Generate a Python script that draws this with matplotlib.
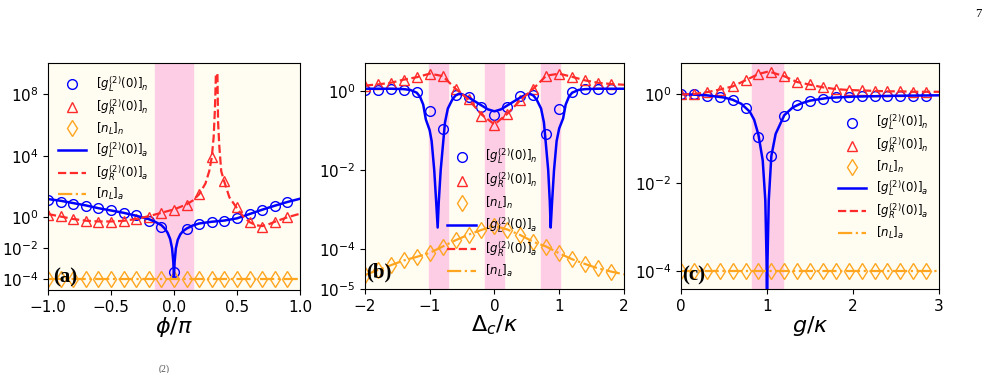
import matplotlib
matplotlib.use('Agg')
import matplotlib.pyplot as plt
import numpy as np
from matplotlib.ticker import NullLocator

# ---------------- panel (a): phi / pi ----------------
phi_pts = [-1.0, -0.9, -0.8, -0.7, -0.6, -0.5, -0.4, -0.3, -0.2, -0.1,
           0.0, 0.1, 0.2, 0.3, 0.4, 0.5, 0.6, 0.7, 0.8, 0.9]
a_gL_n = [1.12, 1.02, 0.86, 0.74, 0.58, 0.45, 0.28, 0.13, -0.22, -0.65,
          -3.52, -0.78, -0.41, -0.32, -0.24, -0.06, 0.22, 0.48, 0.71, 1.02]
a_gR_n = [0.17, 0.09, -0.11, -0.22, -0.28, -0.28, -0.24, -0.13, 0.06, 0.28,
          0.50, 0.82, 1.51, 3.89, 2.38, 0.65, -0.28, -0.61, -0.32, 0.0]
a_nL_n = [-4.0] * 20

phi_gL = [-1.0, -0.9, -0.8, -0.7, -0.6, -0.5, -0.4, -0.3, -0.2, -0.15, -0.1,
          -0.07, -0.05, -0.03, -0.015, -0.005, 0.0, 0.005, 0.015, 0.03, 0.05,
          0.07, 0.1, 0.15, 0.2, 0.3, 0.4, 0.5, 0.6, 0.7, 0.8, 0.9, 1.0]
a_gL_a = [1.19, 1.08, 0.93, 0.78, 0.60, 0.45, 0.30, 0.11, -0.11, -0.28, -0.50,
          -0.75, -1.0, -1.4, -2.0, -2.9, -3.9, -2.9, -2.0, -1.45, -1.1,
          -0.9, -0.72, -0.52, -0.39, -0.28, -0.20, -0.06, 0.22, 0.50, 0.76, 1.0, 1.21]
phi_gR = [-1.0, -0.9, -0.8, -0.7, -0.6, -0.5, -0.4, -0.3, -0.2, -0.1, 0.0, 0.1,
          0.15, 0.2, 0.25, 0.28, 0.3, 0.315, 0.325, 0.333, 0.345, 0.35, 0.36,
          0.375, 0.4, 0.44, 0.5, 0.55, 0.6, 0.65, 0.7, 0.75, 0.8, 0.9, 1.0]
a_gR_a = [0.22, 0.06, -0.10, -0.21, -0.26, -0.26, -0.22, -0.10, 0.08, 0.30, 0.52, 0.84,
          1.1, 1.5, 2.2, 3.0, 3.9, 5.2, 7.0, 9.3, 9.3, 6.2, 4.6,
          3.0, 2.3, 1.3, 0.6, 0.05, -0.3, -0.5, -0.56, -0.45, -0.28, 0.01, 0.24]
phi_nL = [-1.0, 1.0]
a_nL_a = [-4.0, -4.0]

# ---------------- panel (b): Delta_c / kappa ----------------
dc_pts = [-2.0, -1.8, -1.6, -1.4, -1.2, -1.0, -0.8, -0.6, -0.4, -0.2,
          0.0, 0.2, 0.4, 0.6, 0.8, 1.0, 1.2, 1.4, 1.6, 1.8]
b_gL_n = [0.03, 0.03, 0.04, 0.03, -0.04, -0.50, -0.96, -0.11, -0.15, -0.42,
          -0.62, -0.42, -0.14, -0.10, -1.08, -0.46, -0.04, 0.04, 0.04, 0.04]
b_gR_n = [0.13, 0.16, 0.20, 0.28, 0.34, 0.43, 0.37, 0.05, -0.22, -0.63,
          -0.87, -0.58, -0.24, 0.05, 0.38, 0.43, 0.35, 0.26, 0.20, 0.17]
b_nL_n = [-4.65, -4.52, -4.40, -4.28, -4.19, -4.09, -3.93, -3.77, -3.63, -3.51,
          -3.41, -3.50, -3.64, -3.81, -3.93, -4.10, -4.25, -4.37, -4.48, -4.56]

dc_gL = [-2.0, -1.8, -1.6, -1.4, -1.3, -1.2, -1.15, -1.1, -1.06, -1.0, -0.97,
         -0.93, -0.9, -0.877, -0.86, -0.83, -0.79, -0.764, -0.72, -0.65, -0.6,
         -0.55, -0.5, -0.4, -0.3, -0.2, -0.1, 0.0, 0.1, 0.2, 0.3, 0.4, 0.5,
         0.55, 0.6, 0.65, 0.72, 0.764, 0.79, 0.83, 0.855, 0.868, 0.89, 0.92,
         0.96, 1.0, 1.06, 1.1, 1.15, 1.2, 1.3, 1.4, 1.6, 1.8, 2.0]
b_gL_a = [0.05, 0.05, 0.05, 0.04, 0.02, -0.05, -0.15, -0.35, -0.72, -1.0, -1.27,
          -2.0, -2.8, -3.45, -2.8, -2.0, -1.27, -0.8, -0.45, -0.22, -0.12,
          -0.08, -0.09, -0.17, -0.27, -0.37, -0.47, -0.52, -0.47, -0.37, -0.27, -0.17, -0.09,
          -0.08, -0.12, -0.22, -0.45, -0.8, -1.27, -2.0, -2.8, -3.45, -2.8, -2.0,
          -1.27, -0.95, -0.7, -0.35, -0.15, -0.05, 0.02, 0.04, 0.05, 0.05, 0.05]
dc_line = [-2.0, -1.8, -1.6, -1.4, -1.2, -1.0, -0.8, -0.6, -0.4, -0.2, 0.0,
           0.2, 0.4, 0.6, 0.8, 1.0, 1.2, 1.4, 1.6, 1.8, 2.0]
b_gR_a = [0.13, 0.16, 0.20, 0.28, 0.34, 0.43, 0.37, 0.05, -0.22, -0.60, -0.85,
          -0.58, -0.24, 0.05, 0.38, 0.43, 0.35, 0.26, 0.20, 0.17, 0.15]
b_nL_a = [-4.65, -4.52, -4.40, -4.28, -4.19, -4.09, -3.93, -3.77, -3.63, -3.51, -3.41,
          -3.50, -3.64, -3.81, -3.93, -4.10, -4.25, -4.37, -4.48, -4.56, -4.63]

# ---------------- panel (c): g / kappa ----------------
g_pts = [0.0, 0.15, 0.3, 0.45, 0.6, 0.75, 0.9, 1.05, 1.2, 1.35,
         1.5, 1.65, 1.8, 1.95, 2.1, 2.25, 2.4, 2.55, 2.7, 2.85]
c_gL_n = [0.0, -0.01, -0.05, -0.07, -0.13, -0.31, -0.97, -1.39, -0.50, -0.25,
          -0.16, -0.11, -0.07, -0.06, -0.05, -0.04, -0.04, -0.04, -0.04, -0.04]
c_gR_n = [-0.01, 0.0, 0.04, 0.10, 0.17, 0.31, 0.45, 0.49, 0.40, 0.26,
          0.22, 0.15, 0.11, 0.10, 0.08, 0.07, 0.06, 0.06, 0.05, 0.05]
c_nL_n = [-4.0] * 20

g_gL = [0.0, 0.3, 0.5, 0.6, 0.7, 0.8, 0.85, 0.9, 0.95, 0.98, 0.995, 1.0,
        1.005, 1.02, 1.05, 1.1, 1.2, 1.3, 1.4, 1.5, 1.7, 2.0, 2.5, 3.0]
c_gL_a = [0.0, -0.03, -0.08, -0.13, -0.22, -0.40, -0.58, -0.92, -1.5, -2.4, -3.8, -6.0,
          -3.8, -2.4, -1.4, -0.9, -0.48, -0.30, -0.21, -0.15, -0.09, -0.06, -0.04, -0.03]
g_gR = [0.0, 0.15, 0.3, 0.45, 0.6, 0.75, 0.9, 1.0, 1.05, 1.2, 1.35, 1.5,
        1.65, 1.8, 1.95, 2.1, 2.25, 2.4, 2.55, 2.7, 2.85, 3.0]
c_gR_a = [-0.01, 0.0, 0.04, 0.10, 0.17, 0.31, 0.45, 0.50, 0.49, 0.40, 0.27, 0.21,
          0.15, 0.11, 0.09, 0.08, 0.07, 0.06, 0.06, 0.05, 0.05, 0.05]
g_nL = [0.0, 3.0]
c_nL_a = [-4.0, -4.0]

labels = [r'$[g_L^{(2)}(0)]_n$', r'$[g_R^{(2)}(0)]_n$', r'$[n_L]_n$',
          r'$[g_L^{(2)}(0)]_a$', r'$[g_R^{(2)}(0)]_a$', r'$[n_L]_a$']

BG = '#fffdf2'
BAND = '#fdcde6'
BLUE = '#0000ff'
RED = '#ff2a2a'
ORANGE = '#ffa520'


def draw(ax, xp, gLn, gRn, nLn, xl, gLa, xr, gRa, xn, nLa):
    ax.set_facecolor(BG)
    ax.plot(xp, 10 ** np.array(gLn), 'o', ms=7, mfc='none', mec=BLUE, mew=1.0)
    ax.plot(xp, 10 ** np.array(gRn), '^', ms=7, mfc='none', mec=RED, mew=1.0)
    ax.plot(xp, 10 ** np.array(nLn), 'd', ms=8, mfc='none', mec=ORANGE, mew=1.0)
    ax.plot(xl, 10 ** np.array(gLa), '-', color=BLUE, lw=1.8)
    ax.plot(xr, 10 ** np.array(gRa), '--', color=RED, lw=1.6)
    ax.plot(xn, 10 ** np.array(nLa), '-.', color=ORANGE, lw=1.6)
    ax.set_yscale('log')
    ax.yaxis.set_minor_locator(NullLocator())
    ax.tick_params(labelsize=11)


fig = plt.figure(figsize=(9.89, 3.73), dpi=100)
axa = fig.add_axes([0.0485, 0.2225, 0.2548, 0.6086])
axb = fig.add_axes([0.369, 0.2252, 0.2619, 0.6059])
axc = fig.add_axes([0.6886, 0.2252, 0.2609, 0.6059])

draw(axa, phi_pts, a_gL_n, a_gR_n, a_nL_n, phi_gL, a_gL_a, phi_gR, a_gR_a, phi_nL, a_nL_a)
axa.axvspan(-0.15, 0.15, color=BAND, zorder=0)
axa.set_xlim(-1, 1)
axa.set_ylim(2e-5, 1e10)
axa.set_yticks([1e8, 1e4, 1, 1e-2, 1e-4])
axa.set_xticks([-1, -0.5, 0, 0.5, 1])
axa.set_xticklabels(['\u22121.0', '\u22120.5', '0.0', '0.5', '1.0'])
axa.set_xlabel(r'$\phi/\pi$', fontsize=16, labelpad=0)

draw(axb, dc_pts, b_gL_n, b_gR_n, b_nL_n, dc_gL, b_gL_a, dc_line, b_gR_a, dc_line, b_nL_a)
for lo, hi in [(-1.01, -0.72), (-0.15, 0.15), (0.72, 1.01)]:
    axb.axvspan(lo, hi, color=BAND, zorder=0)
axb.set_xlim(-2, 2)
axb.set_ylim(1e-5, 5)
axb.set_yticks([1, 1e-2, 1e-4, 1e-5])
axb.set_xticks([-2, -1, 0, 1, 2])
axb.set_xticklabels(['\u22122', '\u22121', '0', '1', '2'])
axb.set_xlabel(r'$\Delta_c/\kappa$', fontsize=16, labelpad=0)

draw(axc, g_pts, c_gL_n, c_gR_n, c_nL_n, g_gL, c_gL_a, g_gR, c_gR_a, g_nL, c_nL_a)
axc.axvspan(0.82, 1.18, color=BAND, zorder=0)
axc.set_xlim(0, 3)
axc.set_ylim(4e-5, 5)
axc.set_yticks([1, 1e-2, 1e-4])
axc.set_xticks([0, 1, 2, 3])
axc.set_xlabel(r'$g/\kappa$', fontsize=16, labelpad=0)

leg_kw = dict(frameon=False, fontsize=8.5, numpoints=1, handlelength=2.4,
              labelspacing=0.3, loc='upper left', borderaxespad=0)
axa.legend(labels, bbox_to_anchor=(0.02, 0.97), **leg_kw)
axb.legend(labels, bbox_to_anchor=(0.30, 0.65), labelspacing=0.38,
           **{k: v for k, v in leg_kw.items() if k != 'labelspacing'})
axc.legend(labels, bbox_to_anchor=(0.59, 0.80), **leg_kw)

for ax, t, x, y in [(axa, '(a)', 0.02, 0.055), (axb, '(b)', 0.004, 0.075),
                    (axc, '(c)', 0.006, 0.06)]:
    ax.text(x, y, t, transform=ax.transAxes, fontsize=15, fontweight='bold',
            family='Liberation Serif', va='center', ha='left')

fig.text(0.992, 0.955, '7', fontsize=9, family='Liberation Serif', ha='right')
fig.text(0.16, 0.003, '(2)', fontsize=7, family='Liberation Serif', color='#555555')

fig.savefig('out.png', dpi=100)
